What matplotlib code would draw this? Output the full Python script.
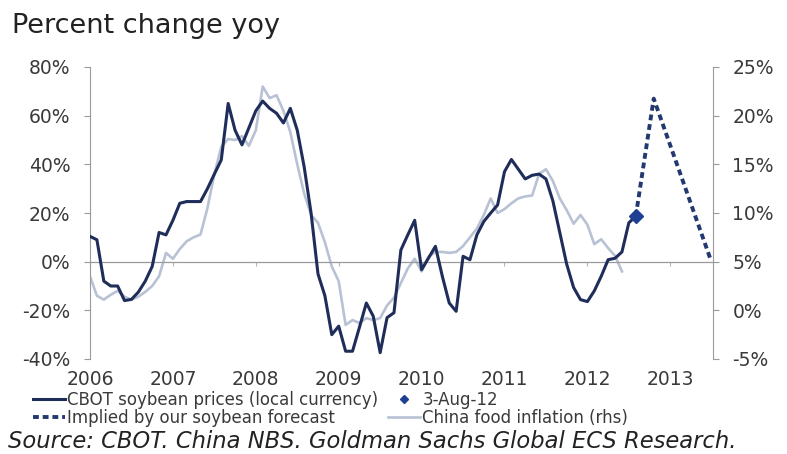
import numpy as np
import matplotlib
matplotlib.use("Agg")
import matplotlib.pyplot as plt
from matplotlib.lines import Line2D

# CBOT soybean prices, % yoy, monthly from Jan 2006 (last point = 3-Aug-12)
soy = [10.4, 9, -8, -10, -10, -16, -15.5, -12.5, -8, -2,
       12, 11, 17, 24, 24.7, 24.7, 24.7, 30, 36, 41.8,
       65, 54, 48, 55, 62, 66, 63, 61, 57, 63,
       54, 39, 20, -5, -14, -30, -26.5, -36.8, -36.8, -27,
       -17, -22.4, -37.4, -23, -21, 4.8, 11, 17, -3.3, 1.5,
       6.3, -6, -17, -20.4, 2.2, 0.8, 11, 16.5, 20, 23.3,
       37, 42, 38, 34, 35.5, 36, 34, 25, 12, -1,
       -10.6, -15.6, -16.4, -12, -6, 0.8, 1.4, 4, 16, 18.6]

# China food inflation, % yoy (rhs), monthly from Jan 2006
food = [3.5, 1.5, 1.1, 1.6, 2.0, 1.4, 1.1, 1.4, 1.9, 2.5,
        3.5, 5.9, 5.3, 6.3, 7.1, 7.5, 7.8, 10.5, 14.0, 16.8,
        17.6, 17.5, 17.9, 16.9, 18.5, 23.0, 21.8, 22.1, 20.5, 18.3,
        15.0, 12.0, 9.8, 9.0, 7.0, 4.5, 3.0, -1.5, -1.0, -1.3,
        -0.8, -1.0, -0.8, 0.5, 1.3, 2.8, 4.3, 5.3, 4.0, 5.5,
        6.0, 6.0, 5.9, 6.0, 6.6, 7.5, 8.4, 9.8, 11.5, 10.0,
        10.4, 11.0, 11.5, 11.7, 11.8, 14.0, 14.5, 13.3, 11.5, 10.3,
        8.9, 9.8, 8.8, 6.8, 7.3, 6.4, 5.6, 4.0]

# implied by soybean forecast (decimal years)
fc_dates = [2012.583, 2012.80, 2013.48]
fc_vals = [18.6, 67, 1.5]

years = list(range(2006, 2014))
left_ticks = [-40, -20, 0, 20, 40, 60, 80]
right_ticks = [-5, 0, 5, 10, 15, 20, 25]

dark = "#1f2d5a"
light = "#b8c2d4"
fc_col = "#22396f"
diam_col = "#1f3f94"
grey = "#9a9a9a"
txt = "#3a3a3a"

soy_x = 2006 + np.arange(len(soy)) / 12
food_x = 2006 + np.arange(len(food)) / 12

fig = plt.figure(figsize=(7.87, 4.54), dpi=100)
ax = fig.add_axes([90/787, 1-359/454, 623/787, 292/454])
ax2 = ax.twinx()
ax.set_zorder(ax2.get_zorder() + 1)
ax.patch.set_visible(False)

ax.set_xlim(2006, 2006 + 623/82.9)
ax.set_ylim(-40, 80)
ax2.set_ylim(-5, 25)

ax.axhline(0, color=grey, lw=0.9, zorder=1)

l4, = ax2.plot(food_x, food, color=light, lw=1.9, solid_joinstyle="round")
l1, = ax.plot(soy_x, soy, color=dark, lw=2.2, solid_joinstyle="round", zorder=3)
l2, = ax.plot(fc_dates, fc_vals, color=fc_col, lw=2.8, ls=(0, (1.5, 1.0)), zorder=3)
ax.plot([soy_x[-1]], [soy[-1]], marker="D", ms=7, color=diam_col, ls="none", zorder=4)
l3 = Line2D([], [], marker="D", ms=4.5, color=diam_col, ls="none")

for s in ["top", "bottom", "right"]:
    ax.spines[s].set_visible(False)
for s in ["top", "bottom", "left"]:
    ax2.spines[s].set_visible(False)
ax.spines["left"].set_color(grey)
ax2.spines["right"].set_color(grey)

ax.set_yticks(left_ticks, [f"{v}%" for v in left_ticks])
ax2.set_yticks(right_ticks, [f"{v}%" for v in right_ticks])
ax.tick_params(axis="y", length=4, color=grey, pad=10, labelsize=13.5, labelcolor=txt)
ax2.tick_params(axis="y", length=4, color=grey, pad=10, labelsize=13.5, labelcolor=txt)

ax.set_xticks(years, [str(y) for y in years])
ax.tick_params(axis="x", length=0, pad=8, labelsize=13.5, labelcolor=txt)

sec = ax.secondary_xaxis(1/3)
sec.set_xticks(years, labels=[""] * len(years))
sec.tick_params(length=3, color="#b5b5b5")
sec.spines["bottom"].set_visible(False)

fig.text(12/787, 1-33/454, "Percent change yoy", fontsize=19.5, va="baseline", color="#222222")

fig.legend([l1, l2, l3, l4],
           ["CBOT soybean prices (local currency)", "Implied by our soybean forecast",
            "3-Aug-12", "China food inflation (rhs)"],
           ncol=2, loc="upper left", bbox_to_anchor=(33/787, 1-391/454),
           frameon=False, fontsize=12, handlelength=1.9, handletextpad=0.15,
           columnspacing=0.6, labelspacing=0.0, borderpad=0, borderaxespad=0,
           labelcolor=txt)

fig.text(8/787, 1-448/454, "Source: CBOT. China NBS. Goldman Sachs Global ECS Research.",
         fontsize=16.3, style="italic", va="baseline", color="#222222")

fig.savefig("out.png", dpi=100)
